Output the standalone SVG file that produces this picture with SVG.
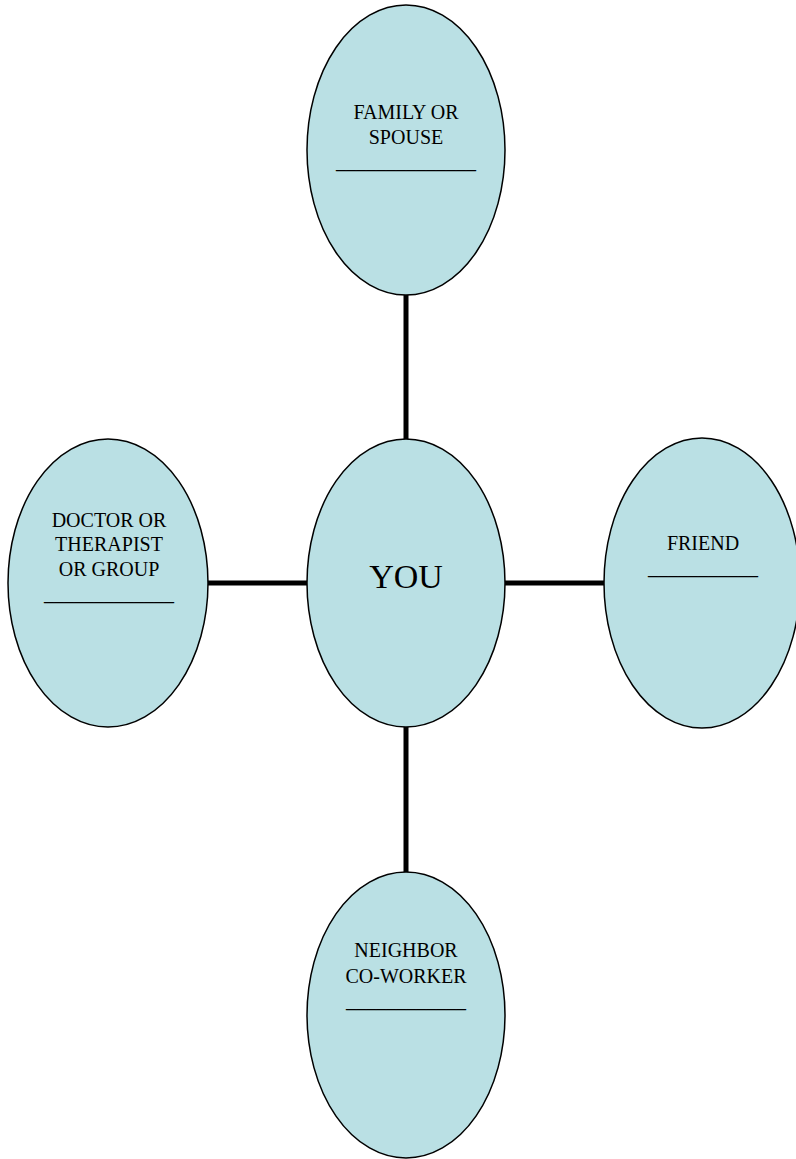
<svg xmlns="http://www.w3.org/2000/svg" width="796" height="1159" viewBox="0 0 796 1159">
<style>
.n{fill:#bae0e4;stroke:#000;stroke-width:1.5}
.c{stroke:#000;stroke-width:5;fill:none}
.t{font-family:"Liberation Serif","Times New Roman",serif;font-size:20px;fill:#000;text-anchor:middle}
.big{font-size:34px}
</style>
<rect width="796" height="1159" fill="#fff"/>
<g id="connectors">
<line class="c" x1="406" y1="295" x2="406" y2="440"/>
<line class="c" x1="406" y1="727" x2="406" y2="872"/>
<line class="c" x1="207" y1="583" x2="307" y2="583"/>
<line class="c" x1="505" y1="583" x2="604" y2="583"/>
</g>
<g id="family">
<ellipse class="n" cx="406" cy="150" rx="99" ry="145"/>
<text class="t" x="406" y="119">FAMILY OR</text>
<text class="t" x="406" y="144">SPOUSE</text>
<text class="t" x="406" y="168">______________</text>
</g>
<g id="you">
<ellipse class="n" cx="406" cy="583" rx="99" ry="144"/>
<text class="t big" x="406" y="588">YOU</text>
</g>
<g id="doctor">
<ellipse class="n" cx="108" cy="583" rx="100" ry="144"/>
<text class="t" x="109" y="527">DOCTOR OR</text>
<text class="t" x="109" y="551">THERAPIST</text>
<text class="t" x="109" y="576">OR GROUP</text>
<text class="t" x="109" y="600">_____________</text>
</g>
<g id="friend">
<ellipse class="n" cx="702" cy="583" rx="98" ry="145"/>
<text class="t" x="703" y="550">FRIEND</text>
<text class="t" x="703" y="574">___________</text>
</g>
<g id="neighbor">
<ellipse class="n" cx="406" cy="1015" rx="99" ry="143"/>
<text class="t" x="406" y="957">NEIGHBOR</text>
<text class="t" x="406" y="983">CO-WORKER</text>
<text class="t" x="406" y="1007">____________</text>
</g>
</svg>
